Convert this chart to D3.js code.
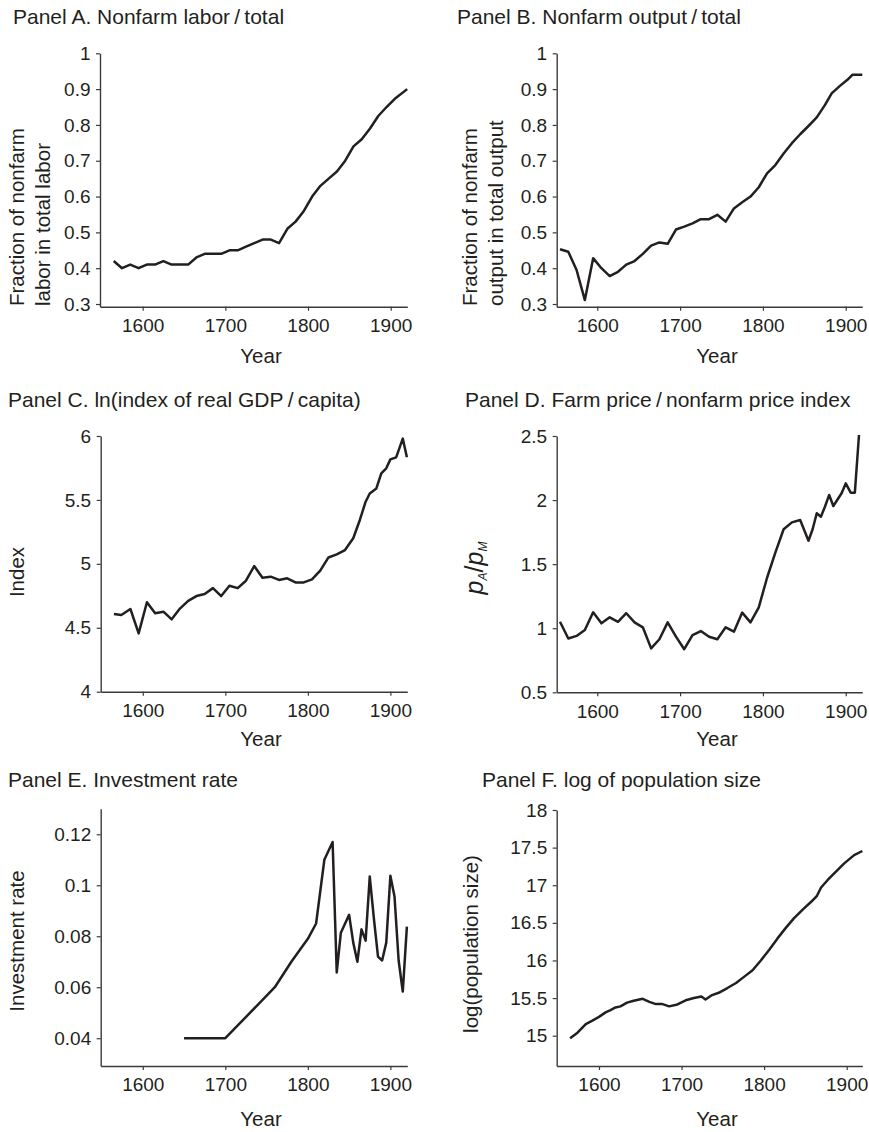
<!DOCTYPE html>
<html><head><meta charset="utf-8">
<script src="https://cdn.jsdelivr.net/npm/d3@7"></script>
<style>
body{margin:0;background:#fff}
svg{display:block}
text{font-family:"Liberation Sans",Arial,Helvetica,sans-serif;fill:#231f20}
</style>
</head><body>
<svg id="c" width="869" height="1132"></svg>
<script>
// ---------- data ----------
const xTicks = [1600, 1700, 1800, 1900];

const laborYears = [1565,1575,1585,1595,1605,1615,1625,1635,1645,1655,1665,1675,1685,1695,1705,1715,1725,1735,1745,1755,1765,1775,1785,1795,1805,1815,1825,1835,1845,1855,1865,1875,1885,1895,1905,1920];
const laborShare = [0.42,0.40,0.41,0.40,0.41,0.41,0.42,0.41,0.41,0.41,0.43,0.44,0.44,0.44,0.45,0.45,0.46,0.47,0.48,0.48,0.47,0.51,0.53,0.56,0.60,0.63,0.65,0.67,0.70,0.74,0.76,0.79,0.825,0.85,0.873,0.90];
const laborTicks = [0.3,0.4,0.5,0.6,0.7,0.8,0.9,1];

const outputYears = [1555,1565,1575,1585,1595,1605,1615,1625,1635,1645,1655,1665,1675,1685,1695,1705,1715,1725,1735,1745,1755,1765,1775,1785,1795,1805,1815,1825,1835,1845,1855,1865,1875,1883,1893,1902,1908,1920];
const outputShare = [0.453,0.446,0.395,0.311,0.428,0.40,0.378,0.39,0.41,0.42,0.44,0.463,0.472,0.468,0.508,0.516,0.525,0.537,0.537,0.549,0.53,0.567,0.584,0.60,0.626,0.665,0.688,0.72,0.749,0.774,0.797,0.821,0.856,0.888,0.909,0.926,0.94,0.94];
const outputTicks = [0.3,0.4,0.5,0.6,0.7,0.8,0.9,1];

const gdpYears = [1565,1574,1585,1595,1605,1615,1625,1635,1645,1655,1665,1675,1685,1695,1705,1715,1725,1735,1745,1755,1765,1775,1785,1795,1805,1815,1825,1835,1845,1855,1863,1870,1875,1883,1889,1895,1900,1907,1915,1920];
const gdpIndex = [4.608,4.60,4.647,4.456,4.70,4.613,4.626,4.566,4.65,4.71,4.748,4.764,4.81,4.748,4.829,4.81,4.868,4.983,4.892,4.90,4.874,4.887,4.855,4.855,4.879,4.947,5.05,5.074,5.108,5.20,5.343,5.486,5.55,5.59,5.708,5.747,5.817,5.833,5.98,5.833];
const gdpTicks = [4,4.5,5,5.5,6];

const priceYears = [1555,1565,1575,1585,1595,1605,1615,1625,1635,1645,1655,1665,1675,1685,1695,1705,1715,1725,1735,1745,1755,1765,1775,1785,1795,1805,1815,1825,1835,1845,1855,1860,1865,1870,1875,1880,1885,1895,1900,1906,1911,1916];
const priceRatio = [1.05,0.92,0.94,0.986,1.124,1.038,1.085,1.05,1.117,1.046,1.007,0.843,0.914,1.046,0.934,0.836,0.947,0.978,0.934,0.914,1.007,0.973,1.122,1.046,1.163,1.394,1.59,1.772,1.826,1.845,1.683,1.772,1.897,1.87,1.95,2.04,1.954,2.053,2.13,2.058,2.058,2.508];
const priceTicks = [0.5,1,1.5,2,2.5];

const investYears = [1650,1700,1760,1780,1800,1810,1820,1830,1835,1840,1850,1855,1860,1865,1870,1875,1880,1885,1890,1895,1900,1905,1910,1915,1920];
const investRate = [0.04,0.04,0.06,0.07,0.079,0.085,0.11,0.117,0.0658,0.0814,0.0884,0.0775,0.07,0.0827,0.0783,0.1034,0.087,0.072,0.0705,0.0775,0.1037,0.0956,0.0705,0.0583,0.0838];
const investTicks = [0.04,0.06,0.08,0.1,0.12];

const popYears = [1565,1574,1584,1592,1600,1608,1614,1620,1626,1634,1642,1653,1661,1669,1677,1685,1695,1705,1715,1724,1729,1737,1745,1755,1766,1776,1786,1796,1806,1816,1826,1836,1847,1857,1864,1869,1877,1887,1897,1909,1919];
const popLog = [14.965,15.04,15.155,15.2,15.25,15.31,15.34,15.375,15.39,15.44,15.465,15.49,15.45,15.42,15.42,15.39,15.415,15.47,15.5,15.52,15.48,15.54,15.57,15.63,15.7,15.785,15.87,16.0,16.14,16.29,16.43,16.56,16.68,16.78,16.86,16.97,17.07,17.18,17.29,17.4,17.455];
const popTicks = [15,15.5,16,16.5,17,17.5,18];

// ---------- drawing ----------
const INK = "#231f20";
const svg = d3.select("#c");
const fmt = d => String(+d.toFixed(3));

function panel(o) {
  const x = d3.scaleLinear().domain(o.xd).range(o.xr);
  const y = d3.scaleLinear().domain(o.yd).range(o.yr);
  const g = svg.append("g");

  g.append("text").attr("x", o.tx).attr("y", o.ty).attr("font-size", 21).text(o.title);

  const xa = g.append("g").attr("transform", `translate(0,${o.yr[0]})`)
    .call(d3.axisBottom(x).tickValues(xTicks).tickFormat(d3.format("d")).tickSize(4).tickSizeOuter(0).tickPadding(8));
  const ya = g.append("g").attr("transform", `translate(${o.xr[0]},0)`)
    .call(d3.axisLeft(y).tickValues(o.yt).tickFormat(fmt).tickSize(4).tickSizeOuter(0).tickPadding(5.5));
  [xa, ya].forEach(a => {
    a.select(".domain").attr("stroke", "#3a3a3a").attr("stroke-width", 1.4);
    a.selectAll(".tick line").attr("stroke", "#3a3a3a").attr("stroke-width", 1.2);
    a.selectAll(".tick text").attr("font-size", 19).attr("fill", INK)
      .attr("font-family", "Liberation Sans, Arial, Helvetica, sans-serif");
  });

  g.append("path")
    .attr("d", d3.line().x(d => x(d[0])).y(d => y(d[1]))(d3.zip(o.years, o.vals)))
    .attr("fill", "none").attr("stroke", INK).attr("stroke-width", 2.5)
    .attr("stroke-linejoin", "round");

  g.append("text").attr("x", o.xl[0]).attr("y", o.xl[1]).attr("text-anchor", "middle")
    .attr("font-size", 20.5).text("Year");

  o.ylab(g);
}

function rotLines(lines, anchor) {
  return g => lines.forEach(l => {
    g.append("text").attr("transform", `translate(${l[1]},${l[2]}) rotate(-90)`)
      .attr("text-anchor", anchor).attr("font-size", 20.5).text(l[0]);
  });
}

panel({
  title: "Panel A. Nonfarm labor\u2009/\u2009total", tx: 13, ty: 24,
  xd: [1548.4, 1920.1], xr: [100, 407.3],
  yd: [0.2925, 1], yr: [306.7, 53.3], yt: laborTicks,
  years: laborYears, vals: laborShare, xl: [261, 363],
  ylab: rotLines([["Fraction of nonfarm", 24, 306], ["labor in total labor", 50, 306]], "start")
});
panel({
  title: "Panel B. Nonfarm output\u2009/\u2009total", tx: 457, ty: 24,
  xd: [1551, 1920], xr: [556.7, 862.3],
  yd: [0.2925, 1], yr: [306.7, 53.3], yt: outputTicks,
  years: outputYears, vals: outputShare, xl: [717, 363],
  ylab: rotLines([["Fraction of nonfarm", 477, 306], ["output in total output", 503, 306]], "start")
});
panel({
  title: "Panel C. ln(index of real GDP\u2009/\u2009capita)", tx: 8, ty: 407,
  xd: [1549, 1920.5], xr: [100.7, 407.3],
  yd: [4, 6], yr: [691.7, 436], yt: gdpTicks,
  years: gdpYears, vals: gdpIndex, xl: [261, 746],
  ylab: rotLines([["Index", 24, 572]], "middle")
});
panel({
  title: "Panel D. Farm price\u2009/\u2009nonfarm price index", tx: 465, ty: 407,
  xd: [1551, 1920], xr: [556.7, 862.3],
  yd: [0.5, 2.5], yr: [692.3, 436], yt: priceTicks,
  years: priceYears, vals: priceRatio, xl: [717, 746],
  ylab: g => {
    const t = g.append("text").attr("transform", "translate(483,568) rotate(-90)")
      .attr("text-anchor", "middle").attr("font-family", "Liberation Serif, Times New Roman, serif")
      .attr("font-style", "italic").attr("font-size", 25);
    t.append("tspan").text("p");
    t.append("tspan").attr("font-size", 12).attr("dy", 4).text("A");
    t.append("tspan").attr("font-style", "normal").attr("dy", -4).text("/");
    t.append("tspan").text("p");
    t.append("tspan").attr("font-size", 12).attr("dy", 4).text("M");
  }
});
panel({
  title: "Panel E. Investment rate", tx: 8, ty: 787,
  xd: [1549, 1920.5], xr: [100.7, 407.3],
  yd: [0.0291, 0.13], yr: [1066, 808.8], yt: investTicks,
  years: investYears, vals: investRate, xl: [261, 1126],
  ylab: rotLines([["Investment rate", 24, 941]], "middle")
});
panel({
  title: "Panel F. log of population size", tx: 482, ty: 787,
  xd: [1548.8, 1918.9], xr: [556.7, 862.3],
  yd: [14.597, 18], yr: [1066, 810], yt: popTicks,
  years: popYears, vals: popLog, xl: [717, 1126],
  ylab: rotLines([["log(population size)", 478, 944]], "middle")
});
</script>
</body></html>
